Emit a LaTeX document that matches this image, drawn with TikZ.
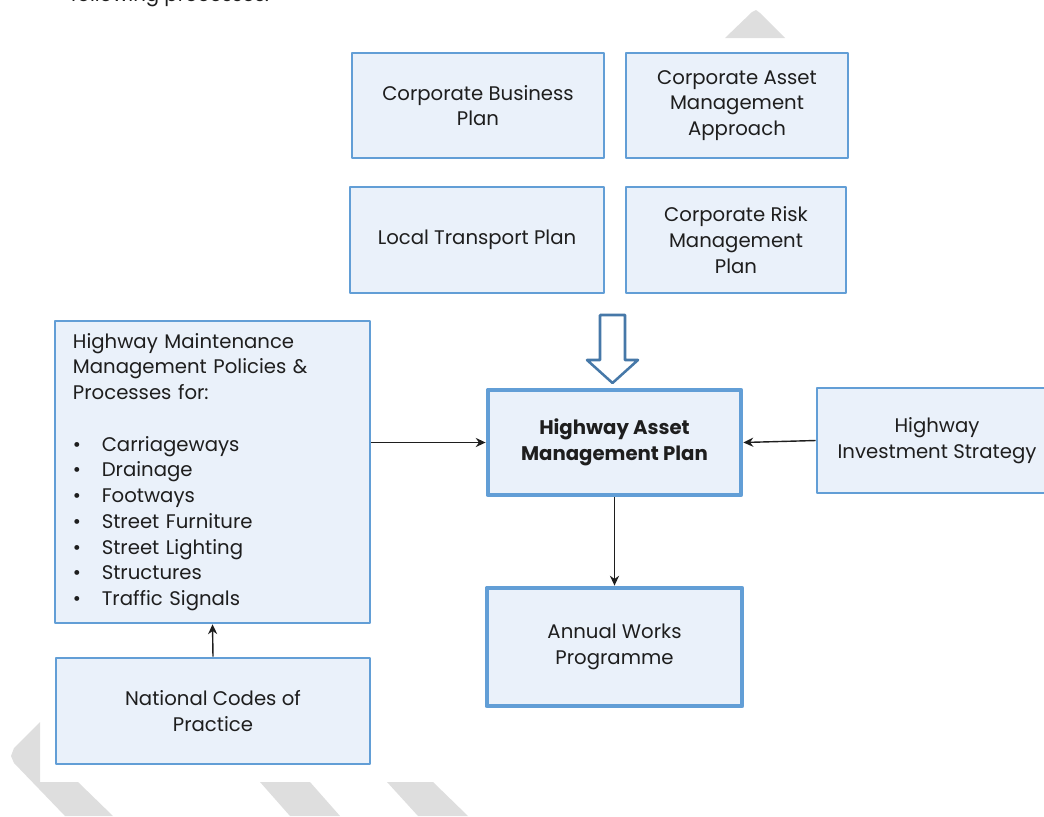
\documentclass[tikz,border=0pt]{standalone}
\usepackage{fontspec}
\setmainfont{Poppins}
\usetikzlibrary{arrows.meta}
\definecolor{khung}{RGB}{98,158,214}
\definecolor{nen}{RGB}{234,241,250}
\definecolor{dam}{RGB}{70,120,168}
\definecolor{vach}{RGB}{222,222,222}
\definecolor{chu}{RGB}{30,30,30}
\begin{document}
\begin{tikzpicture}[x=0.025cm, y=-0.025cm, font=\fontsize{14}{18.3}\selectfont, line join=round, >={Stealth[length=7pt,width=6.5pt]}]
	\tikzset{plan-box/.style={draw=khung, line width=1.8pt, fill=nen, align=center, inner sep=0pt, text=chu},
		main-box/.style={plan-box, line width=3.4pt},
		link/.style={->, line width=1pt, chu}}
	\useasboundingbox (0,0) rectangle (1044,816);
	\fill[vach] (40,722)--(40,782)--(78,782)--(113,816)--(65,816)--(14,763)--(11,756)--(14,748)--cycle;
	\fill[vach] (260,782)--(310,782)--(340,816)--(290,816)--cycle;
	\fill[vach] (387,782)--(433,782)--(468,816)--(418,816)--cycle;
	\fill[vach] (725,38)--(752,12)--(756,10)--(760,13)--(773,26)--(785,38)--cycle;
	\node[anchor=base east, text=chu] (top) at (274,1) {following processes.};
	\node[plan-box, minimum width=6.3cm, minimum height=2.625cm] (cbp) at (478,105.5) {Corporate Business\\Plan};
	\node[plan-box, minimum width=5.55cm, minimum height=2.625cm] (cama) at (737,105.5) {Corporate Asset\\Management\\Approach};
	\node[plan-box, minimum width=6.35cm, minimum height=2.65cm] (ltp) at (477,240) {Local Transport Plan};
	\node[plan-box, minimum width=5.5cm, minimum height=2.65cm] (crmp) at (736,240) {Corporate Risk\\Management\\Plan};
	\node[plan-box, align=left, inner xsep=0.45cm, text width=6.975cm, minimum height=7.55cm] (hmm) at (212.5,472) {Highway Maintenance\\Management Policies \&\\Processes for:\\[18.3pt]
		\makebox[0.72cm][l]{\textbullet}Carriageways\\
		\makebox[0.72cm][l]{\textbullet}Drainage\\
		\makebox[0.72cm][l]{\textbullet}Footways\\
		\makebox[0.72cm][l]{\textbullet}Street Furniture\\
		\makebox[0.72cm][l]{\textbullet}Street Lighting\\
		\makebox[0.72cm][l]{\textbullet}Structures\\
		\makebox[0.72cm][l]{\textbullet}Traffic Signals};
	\node[plan-box, minimum width=7.85cm, minimum height=2.65cm] (ncp) at (213,711) {National Codes of\\Practice};
	\node[main-box, minimum width=6.325cm, minimum height=2.625cm, font=\fontsize{14}{18.3}\selectfont\bfseries] (hamp) at (614.5,442.5) {Highway Asset\\Management Plan};
	\node[main-box, minimum width=6.375cm, minimum height=2.95cm] (awp) at (614.5,647) {Annual Works\\Programme};
	\node[plan-box, minimum width=6cm, minimum height=2.625cm] (his) at (937,440.5) {Highway\\Investment Strategy};
	\draw[dam, line width=1.8pt, fill=white] (600,315)--(625,315)--(625,360)--(638,360)--(612.5,383)--(587,360)--(600,360)--cycle;
	\draw[link] (hmm.east |- hamp.west)--(hamp.west);
	\draw[link] (his.west)--(hamp.east);
	\draw[link] (hamp.south)--(awp.north);
	\draw[link] (ncp.north)--(hmm.south);
\end{tikzpicture}
\end{document}
